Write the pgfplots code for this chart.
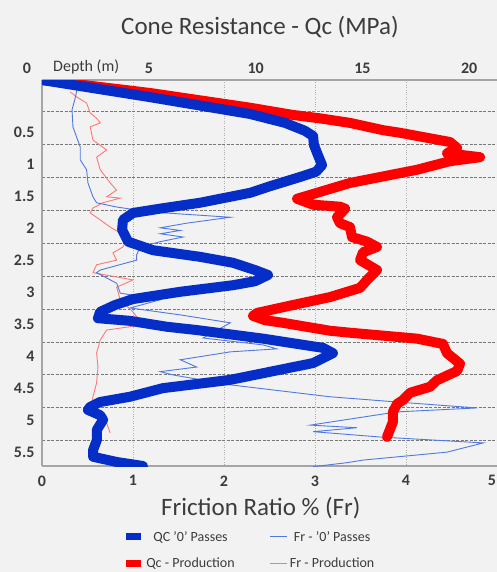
\documentclass[border=0pt]{standalone}
\usepackage{fontspec}
\setmainfont{Carlito}
\usepackage{pgfplots}
\usepackage{pgfplotstable}
\pgfplotsset{compat=1.18}
\definecolor{bg}{RGB}{242,242,242}
\definecolor{qblue}{RGB}{5,45,200}
\definecolor{qred}{RGB}{255,0,0}
\definecolor{fblue}{RGB}{80,120,225}
\definecolor{fred}{RGB}{255,120,120}
\definecolor{txt}{RGB}{60,60,60}
\definecolor{axgray}{RGB}{165,165,165}
\definecolor{gridgray}{RGB}{120,120,120}

% Qc '0' passes (MPa, depth m)
\pgfplotstableread{
q d
0 0.03
5.06 0.29
9.74 0.545
11.38 0.68
12.31 0.80
12.69 0.88
12.73 1.015
12.92 1.17
13.11 1.32
12.83 1.42
12.08 1.50
10.67 1.64
9.74 1.74
7.40 1.89
5.52 1.98
4.26 2.045
3.79 2.15
3.75 2.30
4.03 2.48
5.20 2.61
7.40 2.71
8.94 2.80
9.97 2.91
10.58 2.985
9.97 3.08
8.94 3.14
6.46 3.24
4.26 3.35
3.42 3.44
2.72 3.545
2.62 3.64
4.12 3.68
5.85 3.77
7.26 3.82
10.35 3.95
13.16 4.09
13.62 4.17
12.69 4.32
8.80 4.575
5.66 4.70
4.12 4.83
2.72 4.91
2.25 4.985
2.15 5.03
2.72 5.11
2.86 5.18
2.57 5.33
2.57 5.485
2.39 5.64
2.39 5.74
3.51 5.82
4.73 5.88
}\qcpass

% Qc production
\pgfplotstableread{
q d
0 0.03
5.06 0.227
9.74 0.45
11.75 0.56
12.99 0.61
14.42 0.68
15.96 0.79
16.76 0.83
19.10 0.97
19.43 1.06
18.96 1.14
20.51 1.20
19.10 1.26
17.56 1.39
14.42 1.59
12.87 1.74
11.94 1.83
12.69 1.92
13.95 1.95
14.19 1.98
13.81 2.11
13.95 2.20
14.42 2.26
14.51 2.41
15.22 2.48
15.68 2.56
15.03 2.64
14.89 2.76
15.68 2.91
15.22 3.06
14.89 3.18
13.48 3.32
11.61 3.45
10.07 3.56
9.88 3.605
10.44 3.67
11.28 3.71
13.48 3.83
14.42 3.86
17.56 3.95
18.77 4.03
18.96 4.17
19.57 4.33
19.43 4.44
18.49 4.58
18.16 4.68
17.23 4.77
16.90 4.88
16.62 4.94
16.43 5.06
16.43 5.21
16.15 5.44
}\qcprod

% Fr '0' passes (%, depth m)
\pgfplotstableread{
f d
0.385 0.18
0.36 0.33
0.33 0.48
0.34 0.74
0.42 1.045
0.42 1.24
0.49 1.39
0.505 1.59
0.56 1.80
0.60 1.89
0.82 1.955
1.19 2.03
2.07 2.11
1.59 2.20
1.30 2.27
1.52 2.31
1.30 2.36
1.55 2.41
1.30 2.48
1.08 2.56
1.04 2.68
1.04 2.76
0.64 2.91
0.60 2.95
0.82 3.11
0.86 3.26
1.30 3.36
0.97 3.485
1.52 3.59
2.07 3.71
1.77 3.94
2.43 4.045
2.58 4.105
2.07 4.15
1.52 4.27
1.70 4.38
1.30 4.45
1.44 4.50
2.07 4.65
3.16 4.83
3.90 4.91
4.78 5.00
3.90 5.06
2.95 5.26
3.46 5.30
2.98 5.36
3.71 5.44
4.85 5.53
4.45 5.67
3.53 5.79
3.35 5.83
2.98 5.89
}\frpass

% Fr production
\pgfplotstableread{
f d
0.31 0.21
0.385 0.29
0.49 0.38
0.53 0.53
0.60 0.61
0.64 0.68
0.53 0.74
0.56 0.94
0.71 1.09
0.60 1.20
0.64 1.39
0.75 1.59
0.82 1.70
0.71 1.80
0.86 1.82
0.67 1.89
0.56 1.97
0.53 2.045
0.64 2.15
0.75 2.26
0.86 2.35
0.93 2.45
0.89 2.56
0.78 2.65
0.82 2.76
0.60 2.83
0.56 2.95
1.00 3.06
0.82 3.17
0.86 3.36
1.00 3.545
1.11 3.74
0.71 3.82
0.64 3.97
0.60 4.17
0.615 4.38
0.60 4.62
0.56 4.83
0.55 4.92
0.64 5.08
0.71 5.23
0.75 5.38
}\frprod

\pgfplotsset{
  base/.style={
    at={(42pt,106pt)}, anchor=south west, scale only axis,
    width=455pt, height=386pt,
    y dir=reverse, ymin=0.03, ymax=5.88,
    tick style={draw=none},
    ticklabel style={font=\fontsize{16}{18}\selectfont\bfseries, text=txt},
    /pgf/number format/assume math mode=true,
  },
}

\begin{document}
\begin{tikzpicture}
\fill[bg] (0,0) rectangle (497pt,572pt);
\useasboundingbox (0,0) rectangle (497pt,572pt);

% Friction ratio axis (bottom)
\begin{axis}[base,
  xmin=0, xmax=5, xtick={0,1,2,3,4},
  extra x ticks={5}, extra x tick labels={5},
  extra x tick style={xticklabel style={xshift=-5pt}},
  ytick={0.5,1,1.5,2,2.5,3,3.5,4,4.5,5,5.5}, yticklabels={},
  axis x line*=bottom, axis y line*=left,
  axis line style={axgray, line width=1.2pt, -},
  xmajorgrids, ymajorgrids,
  x grid style={gridgray!60, dotted, line width=0.8pt},
  y grid style={gridgray, dash pattern=on 3pt off 1.5pt, line width=0.9pt},
  xticklabel style={yshift=-6pt},
  xlabel={Friction Ratio \% (Fr)},
  xlabel style={at={(axis description cs:0.481,0)}, anchor=base, yshift=-49pt,
    font=\fontsize{25}{28}\selectfont, text=txt},
]
\addplot[fred, line width=0.9pt] table[x=f, y=d] {\frprod};
\addplot[fblue, line width=0.9pt] table[x=f, y=d] {\frpass};
\end{axis}

% Cone resistance axis (top)
\begin{axis}[base,
  xmin=0, xmax=21.3, xtick={5,10,15,20},
  axis x line*=top, hide y axis,
  axis line style={axgray, line width=1.2pt, -},
  xticklabel style={yshift=3pt},
  extra x ticks={0}, extra x tick labels={0},
  extra x tick style={xticklabel style={xshift=-15pt}},
  title={Cone Resistance - Qc (MPa)},
  title style={at={(axis description cs:0.479,1)}, anchor=base, yshift=40pt,
    font=\fontsize{25}{28}\selectfont, text=txt},
  legend columns=2,
  legend style={at={(0.460,-0.158)}, anchor=north, draw=none, fill=none,
    font=\fontsize{14}{16}\selectfont, text=txt, row sep=11pt,
    /tikz/every even column/.append style={column sep=33pt}},
]
\addplot[qred, line width=10pt, line join=round, line cap=round, forget plot] table[x=q, y=d] {\qcprod};
\addplot[qblue, line width=10pt, line join=round, line cap=round, forget plot] table[x=q, y=d] {\qcpass};
\addlegendimage{legend image code/.code={\fill[qblue, draw=none] (0pt,-3.5pt) rectangle (15pt,3.5pt); \path[draw=none, fill=none] (15pt,0pt) -- (18pt,0pt);}}
\addlegendentry{QC '0' Passes}
\addlegendimage{legend image code/.code={\draw[fblue, line width=1.2pt] (0pt,0pt) -- (17pt,0pt);}}
\addlegendentry{Fr - '0' Passes}
\addlegendimage{legend image code/.code={\fill[qred, draw=none] (0pt,-3.5pt) rectangle (15pt,3.5pt); \path[draw=none, fill=none] (15pt,0pt) -- (18pt,0pt);}}
\addlegendentry{Qc - Production}
\addlegendimage{legend image code/.code={\draw[fred, line width=1.2pt] (0pt,0pt) -- (17pt,0pt);}}
\addlegendentry{Fr - Production}
\end{axis}

% Depth labels (offset between grid lines, as in the source chart)
\begin{axis}[base,
  xmin=0, xmax=1, ymin=-0.3125, ymax=5.71875,
  hide x axis, axis y line*=left, y axis line style={draw=none},
  ytick={0.5,1,1.5,2,2.5,3,3.5,4,4.5,5,5.5},
  yticklabel style={xshift=-4pt},
]
\end{axis}

\node[anchor=west, inner sep=0pt, font=\fontsize{16}{18}\selectfont, text=txt]
  at (53pt,505pt) {Depth (m)};
\end{tikzpicture}
\end{document}
